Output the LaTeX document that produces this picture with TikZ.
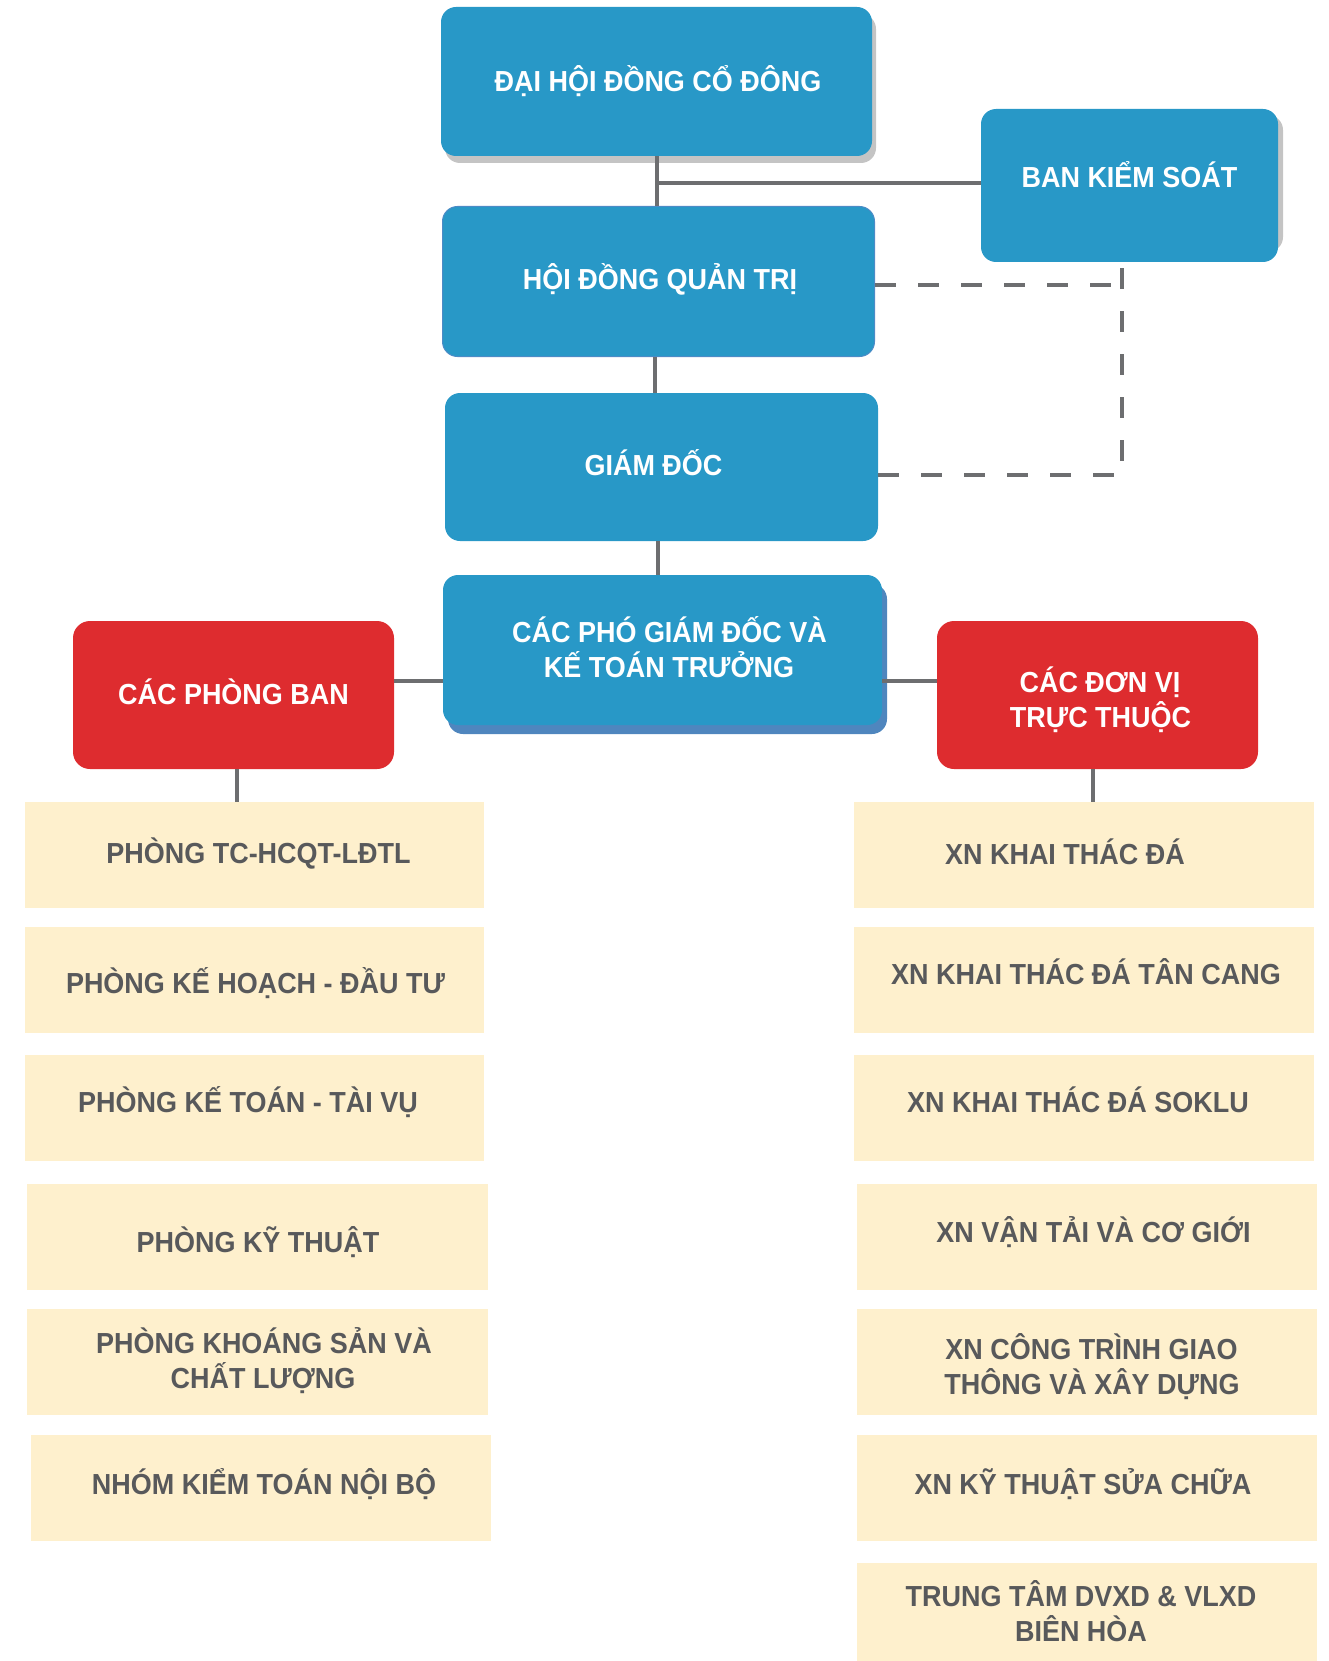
\documentclass[tikz,border=0pt]{standalone}
\usepackage{fontspec}
\setmainfont{Liberation Sans}[FakeStretch=0.93]
\definecolor{bblue}{HTML}{2898C7}
\definecolor{bred}{HTML}{DE2C2F}
\definecolor{cream}{HTML}{FEF0CD}
\definecolor{lgray}{HTML}{6D6E70}
\definecolor{tgray}{HTML}{58595B}
\definecolor{sgray}{HTML}{C4C4C4}
\definecolor{sblue}{HTML}{4F86BE}
\definecolor{bborder}{HTML}{4C8BC6}
\begin{document}
\begin{tikzpicture}[x=1pt,y=-1pt,
  bluebox/.style={fill=bblue, rounded corners=15pt, inner sep=0pt},
  redbox/.style={fill=bred, rounded corners=17pt, inner sep=0pt},
  creambox/.style={fill=cream, inner sep=0pt},
  wtext/.style={text=white, font=\fontsize{29}{35}\selectfont\bfseries, inner sep=0pt, anchor=base},
  gtext/.style={text=tgray, font=\fontsize{29}{35}\selectfont\bfseries, inner sep=0pt, anchor=base},
  conn/.style={draw=lgray, line width=4pt},
  dconn/.style={draw=lgray, line width=4.5pt, dash pattern=on 21pt off 22pt}
]
\useasboundingbox (0,0) rectangle (1329,1661);
% shadows
\fill[sgray, rounded corners=15pt] (445,14) rectangle (876,163);
\fill[sgray, rounded corners=15pt] (986,115) rectangle (1283,252);
\fill[sblue, rounded corners=15pt] (448,584) rectangle (887,734);
% top boxes
\node[bluebox, minimum width=431pt, minimum height=149pt] (dh) at (656.5,81.5) {};
\node[bluebox, minimum width=297pt, minimum height=153pt] (bks) at (1129.5,185.5) {};
\node[bluebox, draw=bborder, line width=1pt, minimum width=432pt, minimum height=150pt] (hd) at (658.5,281.5) {};
\node[bluebox, minimum width=433pt, minimum height=148pt] (gd) at (661.5,467) {};
\node[bluebox, minimum width=439pt, minimum height=150pt] (pgd) at (662.5,650) {};
\node[redbox, minimum width=321pt, minimum height=148pt] (pb) at (233.5,695) {};
\node[redbox, minimum width=321pt, minimum height=148pt] (dv) at (1097.5,695) {};
% left column
\node[creambox, minimum width=459pt, minimum height=106pt] (l1) at (254.5,855) {};
\node[creambox, minimum width=459pt, minimum height=106pt] (l2) at (254.5,980) {};
\node[creambox, minimum width=459pt, minimum height=106pt] (l3) at (254.5,1108) {};
\node[creambox, minimum width=461pt, minimum height=106pt] (l4) at (257.5,1237) {};
\node[creambox, minimum width=461pt, minimum height=106pt] (l5) at (257.5,1362) {};
\node[creambox, minimum width=460pt, minimum height=106pt] (l6) at (261,1488) {};
% right column
\node[creambox, minimum width=460pt, minimum height=106pt] (r1) at (1084,855) {};
\node[creambox, minimum width=460pt, minimum height=106pt] (r2) at (1084,980) {};
\node[creambox, minimum width=460pt, minimum height=106pt] (r3) at (1084,1108) {};
\node[creambox, minimum width=460pt, minimum height=106pt] (r4) at (1087,1237) {};
\node[creambox, minimum width=460pt, minimum height=106pt] (r5) at (1087,1362) {};
\node[creambox, minimum width=460pt, minimum height=106pt] (r6) at (1087,1488) {};
\node[creambox, minimum width=460pt, minimum height=98pt] (r7) at (1087,1612) {};
% connectors
\coordinate (j1) at (657,183);
\coordinate (hl) at (662,681);
\coordinate (d1) at (1122,285);
\coordinate (d2) at (1122,475);
\coordinate (vhd) at (655,0);
\coordinate (vgd) at (658,0);
\coordinate (vpb) at (237,0);
\coordinate (vdv) at (1093,0);
\draw[conn] (dh.south) -- (dh.south |- hd.north);
\draw[conn] (j1) -- (j1 -| bks.west);
\draw[conn] (hd.south -| vhd) -- (vhd |- gd.north);
\draw[conn] (gd.south -| vgd) -- (vgd |- pgd.north);
\draw[conn] (pb.east |- hl) -- (pgd.west |- hl);
\draw[conn] (pgd.east |- hl) -- (dv.west |- hl);
\draw[conn] (pb.south -| vpb) -- (vpb |- l1.north);
\draw[conn] (dv.south -| vdv) -- (vdv |- r1.north);
\draw[dconn] (hd.east |- d1) -- (d1);
\draw[dconn] (gd.east |- d2) -- (d2) -- (bks.south -| d1);
% texts
\node[wtext] (dh-t) at (658,92) {ĐẠI HỘI ĐỒNG CỔ ĐÔNG};
\node[wtext] (bks-t) at (1129.5,188) {BAN KIỂM SOÁT};
\node[wtext] (hd-t) at (660,290) {HỘI ĐỒNG QUẢN TRỊ};
\node[wtext] (gd-t) at (653.5,475) {GIÁM ĐỐC};
\node[wtext] (pgd-t1) at (669.5,642) {CÁC PHÓ GIÁM ĐỐC VÀ};
\node[wtext] (pgd-t2) at (669,677) {KẾ TOÁN TRƯỞNG};
\node[wtext] (pb-t) at (233.5,704) {CÁC PHÒNG BAN};
\node[wtext] (dv-t1) at (1100,692) {CÁC ĐƠN VỊ};
\node[wtext] (dv-t2) at (1100.5,727) {TRỰC THUỘC};
\node[gtext] (l1-t) at (258.5,863) {PHÒNG TC-HCQT-LĐTL};
\node[gtext] (l2-t) at (255.5,993) {PHÒNG KẾ HOẠCH - ĐẦU TƯ};
\node[gtext] (l3-t) at (248,1112) {PHÒNG KẾ TOÁN - TÀI VỤ};
\node[gtext] (l4-t) at (258,1252) {PHÒNG KỸ THUẬT};
\node[gtext] (l5-t1) at (264,1353) {PHÒNG KHOÁNG SẢN VÀ};
\node[gtext] (l5-t2) at (263,1388) {CHẤT LƯỢNG};
\node[gtext] (l6-t) at (264,1494) {NHÓM KIỂM TOÁN NỘI BỘ};
\node[gtext] (r1-t) at (1065,864) {XN KHAI THÁC ĐÁ};
\node[gtext] (r2-t) at (1086,984) {XN KHAI THÁC ĐÁ TÂN CANG};
\node[gtext] (r3-t) at (1078,1112) {XN KHAI THÁC ĐÁ SOKLU};
\node[gtext] (r4-t) at (1093.5,1242) {XN VẬN TẢI VÀ CƠ GIỚI};
\node[gtext] (r5-t1) at (1091.5,1359) {XN CÔNG TRÌNH GIAO};
\node[gtext] (r5-t2) at (1092,1394) {THÔNG VÀ XÂY DỰNG};
\node[gtext] (r6-t) at (1083,1494) {XN KỸ THUẬT SỬA CHỮA};
\node[gtext] (r7-t1) at (1081,1606) {TRUNG TÂM DVXD \& VLXD};
\node[gtext] (r7-t2) at (1081,1641) {BIÊN HÒA};
\end{tikzpicture}
\end{document}
